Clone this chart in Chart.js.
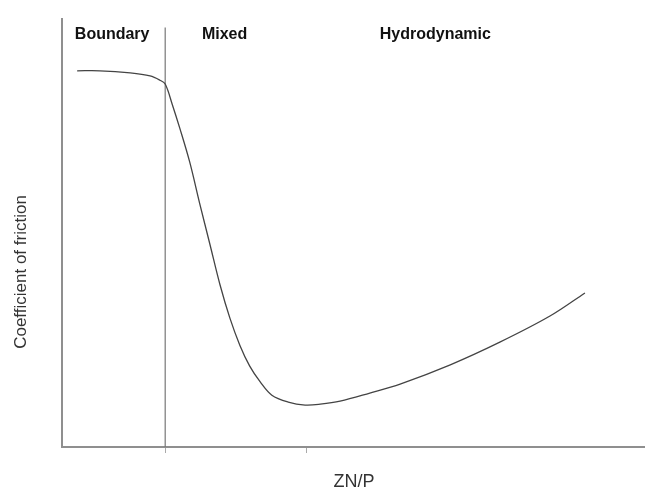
<!DOCTYPE html>
<html>
<head>
<meta charset="utf-8">
<script src="https://cdn.jsdelivr.net/npm/chart.js@4.4.1/dist/chart.umd.min.js"></script>
<style>
  body { margin: 0; background: #fff; }
  #wrap { width: 645px; height: 493px; position: relative; }
</style>
</head>
<body>
<div id="wrap"><canvas id="myChart"></canvas></div>
<script>
// ZN/P (arbitrary units) and coefficient of friction (arbitrary units)
var znp = [2.6, 6.5, 11.7, 15.1, 16.8, 17.7, 18.9, 20.2, 21.9, 23.6, 25.4, 27.1, 28.8, 30.5, 32.2, 34.0, 36.0, 38.8, 41.7, 44.3, 47.7, 52.8, 58.0, 66.6, 75.1, 83.7, 89.7];
var friction = [87.9, 87.9, 87.4, 86.7, 85.7, 84.8, 80.1, 74.5, 66.6, 57.0, 47.2, 37.9, 30.1, 23.8, 18.9, 15.2, 12.1, 10.5, 9.8, 10.0, 10.7, 12.6, 14.7, 19.2, 24.5, 30.6, 36.0];

// boundary / mixed limit
var dividerX = 17.7;
var dividerTop = 98;

// regime names and where each label starts (ZN/P units)
var regionNames = ['Boundary', 'Mixed', 'Hydrodynamic'];
var regionStart = [2.2, 24.0, 54.5];

var xTickValues = [17.7, 42.0];

var xTitle = 'ZN/P';
var yTitle = 'Coefficient of friction';

var curve = znp.map(function (v, i) { return { x: v, y: friction[i] }; });

// draws the regime names and the two axis titles
var labelsPlugin = {
    id: 'labelsPlugin',
    afterDraw: function (chart) {
        var ctx = chart.ctx;
        var xs = chart.scales.x;
        ctx.save();
        ctx.fillStyle = '#111';
        ctx.font = 'bold 16px "Liberation Sans", Arial, sans-serif';
        ctx.textBaseline = 'alphabetic';
        ctx.textAlign = 'left';
        for (var i = 0; i < regionNames.length; i++) {
            ctx.fillText(regionNames[i], xs.getPixelForValue(regionStart[i]), 39);
        }

        ctx.fillStyle = '#333';
        ctx.font = '18px "Liberation Sans", Arial, sans-serif';
        ctx.textAlign = 'center';
        ctx.fillText(xTitle, 354, 487);

        ctx.font = '17px "Liberation Sans", Arial, sans-serif';
        ctx.translate(26, 272);
        ctx.rotate(-Math.PI / 2);
        ctx.fillText(yTitle, 0, 0);
        ctx.restore();
    }
};

var ctx = document.getElementById('myChart').getContext('2d');
var myChart = new Chart(ctx, {
    type: 'line',
    data: {
        datasets: [{
            data: curve,
            borderColor: '#444',
            borderWidth: 1.3,
            pointRadius: 0,
            fill: false,
            tension: 0.35
        },
        {
            data: [{ x: dividerX, y: 0 }, { x: dividerX, y: dividerTop }],
            borderColor: '#777',
            borderWidth: 1.2,
            pointRadius: 0,
            fill: false
        }]
    },
    options: {
        responsive: true,
        maintainAspectRatio: false,
        animation: false,
        layout: { padding: { top: 19, left: 0, right: 0, bottom: 0 } },
        plugins: {
            legend: { display: false },
            tooltip: { enabled: false }
        },
        scales: {
            x: {
                type: 'linear',
                min: 0,
                max: 100,
                ticks: { display: false },
                afterBuildTicks: function (scale) {
                    scale.ticks = xTickValues.map(function (v) { return { value: v }; });
                },
                afterFit: function (scale) { scale.height = 46; },
                grid: { drawOnChartArea: false, drawTicks: true, tickLength: 6, color: '#aaa' },
                border: { color: '#8f8f8f', width: 2 }
            },
            y: {
                min: 0,
                max: 100,
                ticks: { display: false },
                afterFit: function (scale) { scale.width = 62; },
                grid: { display: false },
                border: { color: '#8f8f8f', width: 2 }
            }
        }
    },
    plugins: [labelsPlugin]
});
</script>
</body>
</html>
